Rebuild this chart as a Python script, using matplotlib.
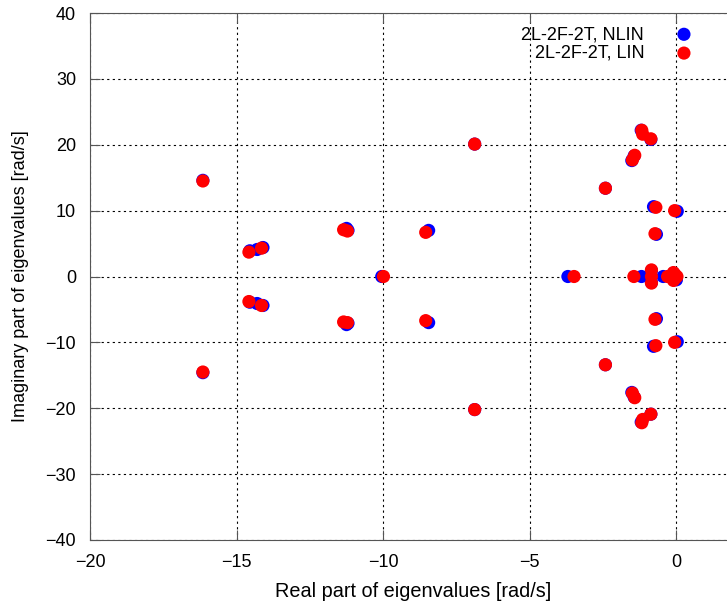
import numpy as np
import matplotlib.pyplot as plt

plt.rcParams['font.family'] = ['Liberation Sans', 'DejaVu Sans']

# eigenvalues (real, imaginary) [rad/s]
nlin_re = [-16.15, -16.15, -14.55, -14.55, -14.30, -14.30, -14.10, -14.10,
           -11.25, -11.25, -11.20, -11.20, -8.45, -8.45, -6.88, -6.88,
           -10.05, -3.70, -1.20, -1.20, -0.87, -0.87, -1.52, -1.52,
           -1.44, -1.44, -2.42, -2.42, -0.78, -0.78, 0.03, 0.03,
           -0.68, -0.68, -1.19, -0.85, -0.85, -0.45, -0.20, -0.10, 0.00]
nlin_im = [14.6, -14.6, 3.9, -3.9, 4.1, -4.1, 4.4, -4.4,
           7.3, -7.3, 7.0, -7.1, 7.0, -7.0, 20.1, -20.2,
           0.0, 0.0, 22.2, -22.1, 20.8, -20.9, 17.6, -17.6,
           18.3, -18.3, 13.4, -13.4, 10.6, -10.6, 9.9, -9.9,
           6.4, -6.4, 0.0, 0.9, -0.9, 0.0, 0.0, 0.5, -0.5]

lin_re = [-16.15, -16.15, -14.58, -14.58, -14.15, -14.15,
          -11.35, -11.35, -11.22, -11.22, -8.55, -8.55, -6.88, -6.88,
          -9.99, -3.49, -1.18, -1.18, -1.15, -1.15, -0.87, -0.87,
          -1.50, -1.50, -1.42, -1.42, -2.42, -2.42, -0.70, -0.70,
          -0.06, -0.06, -0.73, -0.73, -1.45, -0.85, -0.85, -0.85,
          -0.30, -0.10, -0.10, 0.02, -0.05, -0.05]
lin_im = [14.5, -14.5, 3.7, -3.8, 4.3, -4.4,
          7.1, -6.9, 6.9, -7.0, 6.7, -6.7, 20.1, -20.2,
          0.0, 0.0, 22.2, -22.2, 21.6, -21.7, 20.9, -20.9,
          17.7, -17.7, 18.4, -18.4, 13.4, -13.4, 10.5, -10.5,
          10.0, -10.0, 6.5, -6.5, 0.0, 1.0, -1.0, 0.0,
          0.0, 0.6, -0.6, 0.0, 0.3, -0.3]

fig = plt.figure(figsize=(7.27, 6.06), dpi=100)
ax = fig.add_axes([90 / 727, 1 - 540 / 606, 689 / 727, 527 / 606])

ax.scatter(nlin_re, nlin_im, s=90, color='#0000ff', edgecolors='none',
           label='2L-2F-2T, NLIN', zorder=3)
ax.scatter(lin_re, lin_im, s=90, color='#ff0000', edgecolors='none',
           label='2L-2F-2T, LIN', zorder=4)

ax.set_xlim(-20, 3.5)
ax.set_ylim(-40, 40)
ax.set_xticks([-20, -15, -10, -5, 0])
ax.set_yticks(np.arange(-40, 41, 10))
ax.grid(True, color='black', linestyle=(0, (2, 3)), linewidth=0.8)
ax.set_axisbelow(True)
ax.tick_params(direction='in', length=7, top=True, right=True,
               labelsize=13, pad=10, color='#555555')
for s in ax.spines.values():
    s.set_color('#555555')

ax.set_xlabel('Real part of eigenvalues [rad/s]', fontsize=14.3)
ax.xaxis.set_label_coords((413 - 90) / 689, -0.08)
ax.set_ylabel('Imaginary part of eigenvalues [rad/s]', fontsize=13, labelpad=12)

ax.legend(loc='upper right', bbox_to_anchor=(702 / 727, 1 - 17 / 606),
          bbox_transform=fig.transFigure, frameon=False, markerfirst=False,
          fontsize=13, handletextpad=1.7, labelspacing=0.1,
          borderpad=0, handlelength=1.0, scatterpoints=1)

fig.savefig('out.png', dpi=100)
